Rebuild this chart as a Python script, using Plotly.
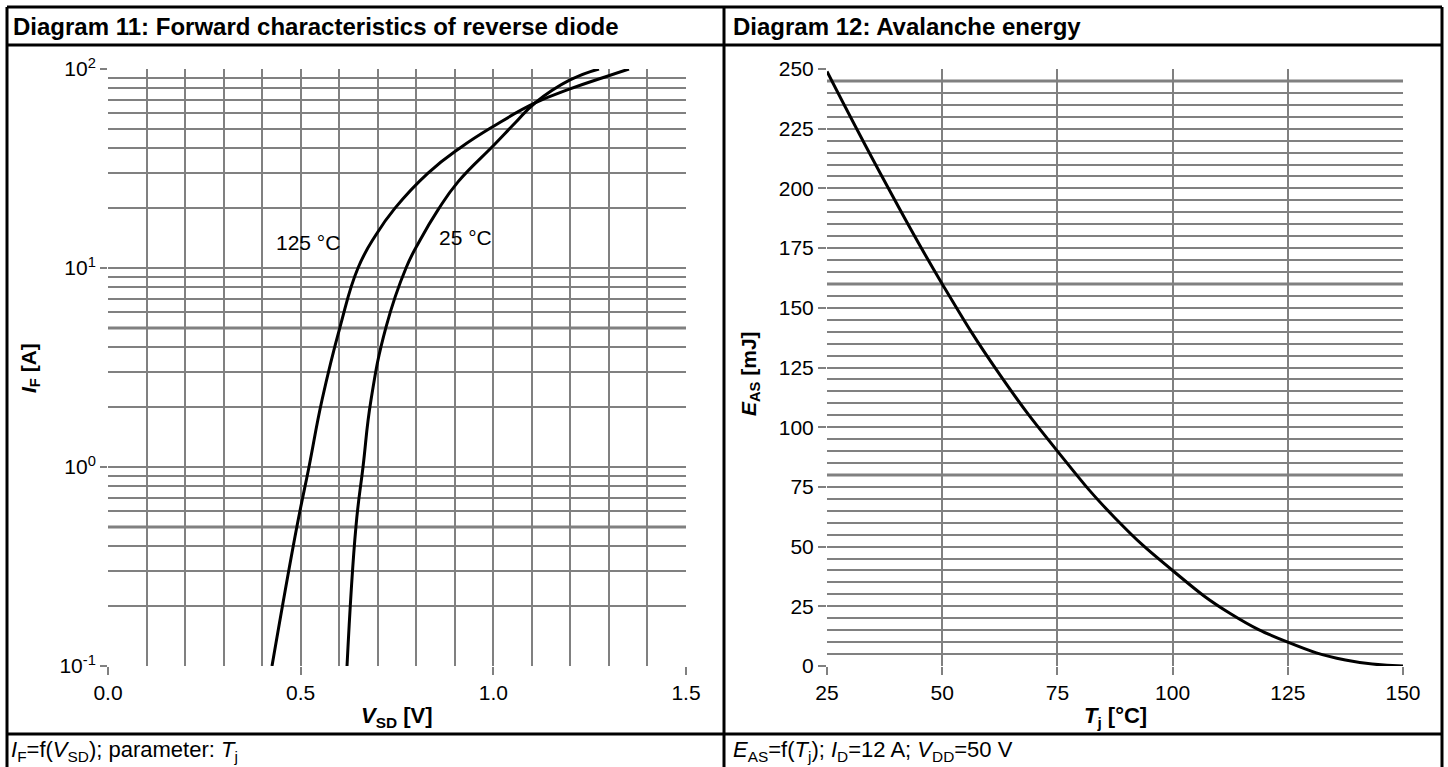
import plotly.graph_objects as go

# ---------------- data ----------------
# Diagram 11: forward characteristics of reverse diode
v_sd_125 = [0.4256, 0.4905, 0.5216, 0.5554, 0.6021, 0.6488, 0.6955, 0.7448, 0.8305, 0.9135, 1.0017, 1.1081, 1.199, 1.2898, 1.352]
i_f_125 = [0.1, 0.505, 1.0, 2.17, 5.05, 10, 14.7, 20.0, 30.0, 40.1, 51.7, 67.5, 79.4, 91.2, 100]

v_sd_25 = [0.6203, 0.6436, 0.6618, 0.6825, 0.7215, 0.7734, 0.8097, 0.8564, 0.9083, 1.0017, 1.0563, 1.1081, 1.199, 1.2742]
i_f_25 = [0.1, 0.505, 1.0, 2.17, 5.05, 10, 13.8, 19.6, 27.1, 41.5, 53.5, 67.5, 88.1, 100]

# Diagram 12: avalanche energy
t_j = [25, 37.5, 50, 62.5, 75, 87.5, 100, 112.5, 125, 137.5, 150]
e_as = [249, 203, 160, 122, 90, 62, 40, 22, 10, 2.5, 0]

# tick labels
left_x_ticks = [0.0, 0.5, 1.0, 1.5]
left_y_ticks = [0.1, 1, 10, 100]
left_y_ticktext = ["10<sup>-1</sup>", "10<sup>0</sup>", "10<sup>1</sup>", "10<sup>2</sup>"]
left_y_minor = [m * d for d in (0.1, 1, 10) for m in range(2, 10)]
left_y_strong = [0.5, 5]
right_x_ticks = [25, 50, 75, 100, 125, 150]
right_y_ticks = list(range(0, 251, 25))
right_y_strong = [80, 160, 245]

W, H = 1448, 767
FONT = "Liberation Sans, Arial, sans-serif"
GRID = "#808080"


def px(x):
    return x / W


def py(y):
    return 1 - y / H


fig = go.Figure()

curve = dict(color="black", width=3, shape="spline", smoothing=1.3)
fig.add_trace(go.Scatter(x=v_sd_125, y=i_f_125, mode="lines", line=curve,
                         xaxis="x", yaxis="y", showlegend=False, hoverinfo="skip"))
fig.add_trace(go.Scatter(x=v_sd_25, y=i_f_25, mode="lines", line=curve,
                         xaxis="x", yaxis="y", showlegend=False, hoverinfo="skip"))
fig.add_trace(go.Scatter(x=t_j, y=e_as, mode="lines", line=curve,
                         xaxis="x2", yaxis="y2", showlegend=False, hoverinfo="skip"))

ydom = [py(666), py(69)]
tickfont = dict(family=FONT, size=21, color="black")
common = dict(gridcolor=GRID, gridwidth=2, zeroline=False, showline=False, ticks="outside",
              tickwidth=2, tickcolor=GRID, tickfont=tickfont, automargin=False, fixedrange=True,
              showgrid=True)

fig.update_layout(
    width=W, height=H,
    margin=dict(l=0, r=0, t=0, b=0, pad=0, autoexpand=False),
    paper_bgcolor="white", plot_bgcolor="white",
    showlegend=False,
    font=dict(family=FONT, color="black"),
    xaxis=dict(domain=[px(108), px(686)], range=[0, 1.5], tickvals=left_x_ticks, tickformat=".1f",
               ticklen=8, minor=dict(dtick=0.1, showgrid=True, gridcolor=GRID, gridwidth=2, ticks=""),
               anchor="y", **common),
    yaxis=dict(domain=ydom, type="log", range=[-1, 2], tickvals=left_y_ticks, ticktext=left_y_ticktext,
               ticklen=7, minor=dict(tickvals=left_y_minor, showgrid=True, gridcolor=GRID, gridwidth=2, ticks=""),
               anchor="x", **common),
    xaxis2=dict(domain=[px(827), px(1403)], range=[25, 150], tickvals=right_x_ticks,
                ticklen=8, anchor="y2", **common),
    yaxis2=dict(domain=ydom, range=[0, 250], tickvals=right_y_ticks,
                ticklen=8, minor=dict(dtick=5, showgrid=True, gridcolor=GRID, gridwidth=2, ticks=""),
                anchor="x2", **common),
)

shapes = []
# stronger grid lines
for v in left_y_strong:
    shapes.append(dict(type="line", xref="x domain", yref="y", x0=0, x1=1, y0=v, y1=v,
                       line=dict(color=GRID, width=3), layer="below"))
for v in right_y_strong:
    shapes.append(dict(type="line", xref="x2 domain", yref="y2", x0=0, x1=1, y0=v, y1=v,
                       line=dict(color=GRID, width=3), layer="below"))

# table frame
frame = dict(color="black", width=3)
for (x0, y0, x1, y1) in [(7, 7, 1442, 7), (7, 45, 1442, 45), (7, 734, 1442, 734),
                         (7, 7, 7, 767), (724, 7, 724, 767), (1442, 7, 1442, 767)]:
    shapes.append(dict(type="line", xref="paper", yref="paper", x0=px(x0), x1=px(x1), y0=py(y0), y1=py(y1),
                       line=frame, layer="above"))
fig.update_layout(shapes=shapes)

ann = []


def text(x, y, s, size, xanchor="left", bold=False, angle=0):
    if bold:
        s = "<b>" + s + "</b>"
    ann.append(dict(x=px(x), y=py(y), xref="paper", yref="paper", text=s, showarrow=False,
                    xanchor=xanchor, yanchor="middle", textangle=angle,
                    font=dict(family=FONT, size=size, color="black")))


text(11, 27, "Diagram 11: Forward characteristics of reverse diode", 24, bold=True)
text(731, 27, "Diagram 12: Avalanche energy", 24, bold=True)
text(397, 717, "<i>V</i><sub>SD</sub> [V]", 22, xanchor="center", bold=True)
text(1115, 717, "<i>T</i><sub>j</sub> [°C]", 22, xanchor="center", bold=True)
text(30, 368, "<i>I</i><sub>F</sub> [A]", 21, xanchor="center", bold=True, angle=-90)
text(750, 374, "<i>E</i><sub>AS</sub> [mJ]", 21, xanchor="center", bold=True, angle=-90)
text(9, 751, "<i>I</i><sub>F</sub>=f(<i>V</i><sub>SD</sub>); parameter: <i>T</i><sub>j</sub>", 22)
text(731, 751, "<i>E</i><sub>AS</sub>=f(<i>T</i><sub>j</sub>); <i>I</i><sub>D</sub>=12 A; <i>V</i><sub>DD</sub>=50 V", 22)
text(308, 242, "125 °C", 21, xanchor="center")
text(465, 238, "25 °C", 21, xanchor="center")
fig.update_layout(annotations=ann)

fig.write_html("out.html", config={"displayModeBar": False},
               post_script="document.body.style.margin='0';document.body.style.overflow='hidden';")
